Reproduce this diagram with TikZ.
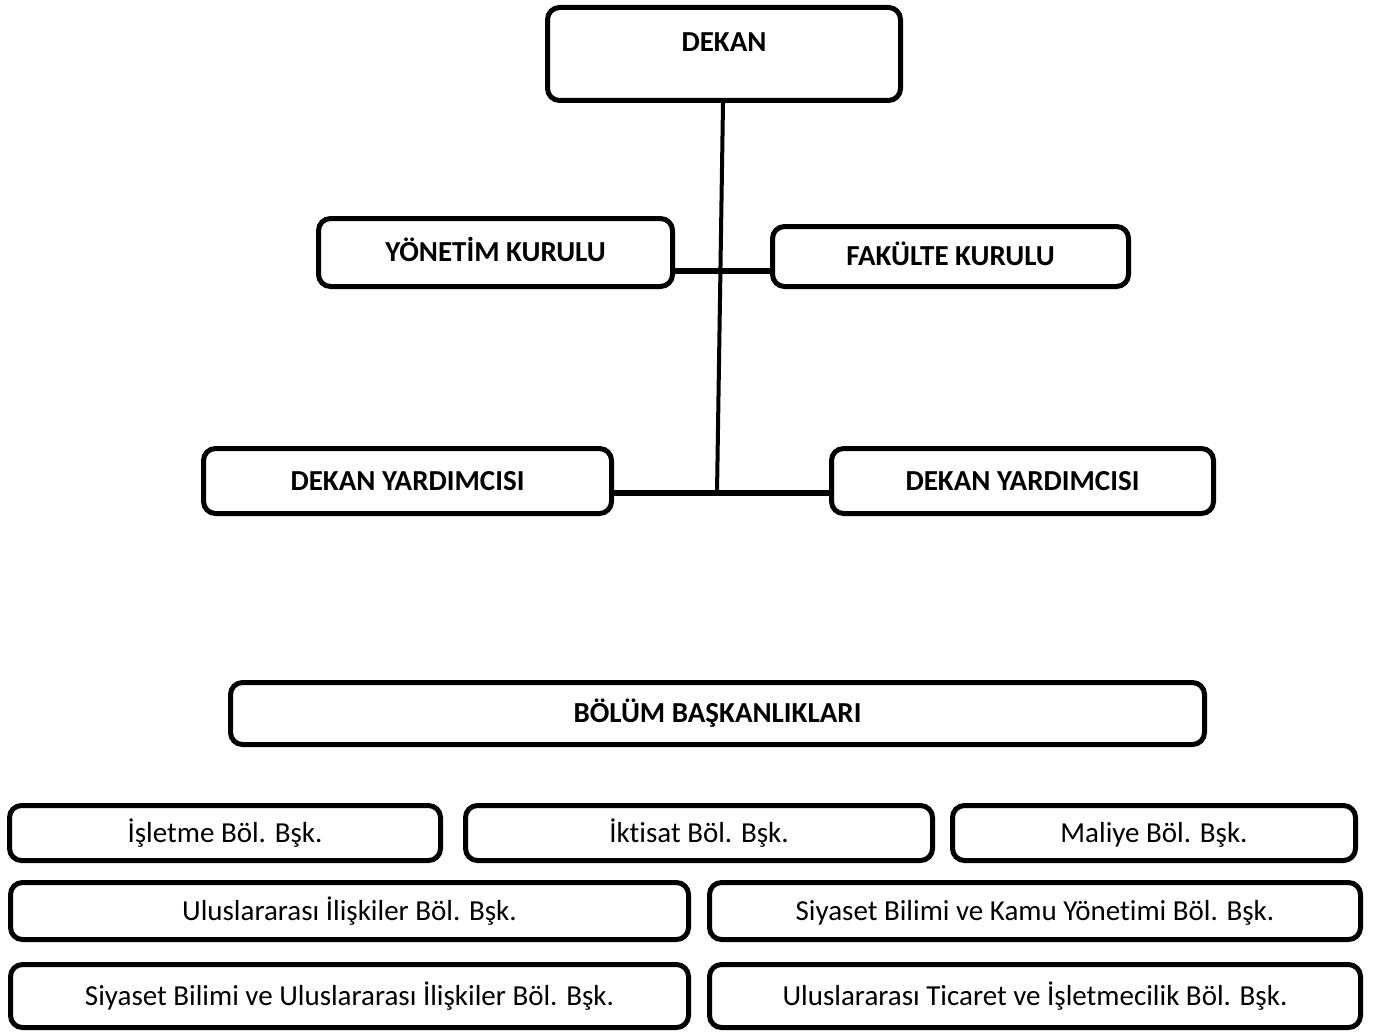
\documentclass[tikz,border=0pt]{standalone}
\usepackage{fontspec}
\setmainfont{Carlito}[Ligatures=CommonOff]
\begin{document}
\begin{tikzpicture}[x=1pt,y=-1pt,
  orgbox/.style={draw=black, line width=5pt, rounded corners=12pt, fill=white,
    inner sep=0pt, text height=18.7pt, text depth=0pt,
    font=\fontsize{29}{35}\selectfont},
  headbox/.style={orgbox, font=\fontsize{29}{35}\selectfont\bfseries},
  conn/.style={draw=black, line width=4pt},
  hconn/.style={draw=black, line width=6pt}]
\useasboundingbox[fill=white] (0,0) rectangle (1380,1035);
% junction points
\coordinate (jt) at (721,271);
\coordinate (jb) at (717,493);
% boxes
\node[headbox, minimum width=353pt, minimum height=93pt,
  label={[font=\fontsize{29}{35}\selectfont\bfseries, text height=18.7pt, text depth=0pt, inner sep=0pt, yshift=12pt]center:DEKAN}] (dekan) at (724,54) {};
\node[headbox, minimum width=354pt, minimum height=68pt] (yonetim) at (495.5,252.5) {YÖNETİM KURULU};
\node[headbox, minimum width=356pt, minimum height=60pt] (fakulte) at (950.5,256.5) {FAKÜLTE KURULU};
\node[headbox, minimum width=408pt, minimum height=65pt] (yard1) at (407.5,481) {DEKAN YARDIMCISI};
\node[headbox, minimum width=382pt, minimum height=65pt] (yard2) at (1022.5,481) {DEKAN YARDIMCISI};
\node[headbox, minimum width=974pt, minimum height=62pt] (bolum) at (717.5,713.5) {BÖLÜM BAŞKANLIKLARI};
\node[orgbox, minimum width=431pt, minimum height=55pt] (isl) at (225,833) {İşletme Böl. Bşk.};
\node[orgbox, minimum width=467pt, minimum height=55pt] (ikt) at (699,833) {İktisat Böl. Bşk.};
\node[orgbox, minimum width=403pt, minimum height=55pt] (mal) at (1154,833) {Maliye Böl. Bşk.};
\node[orgbox, minimum width=678pt, minimum height=57pt] (uli) at (349.5,911) {Uluslararası İlişkiler Böl. Bşk.};
\node[orgbox, minimum width=651pt, minimum height=57pt] (sbk) at (1035,911) {Siyaset Bilimi ve Kamu Yönetimi Böl. Bşk.};
\node[orgbox, minimum width=678pt, minimum height=63pt] (sbu) at (349.5,996) {Siyaset Bilimi ve Uluslararası İlişkiler Böl. Bşk.};
\node[orgbox, minimum width=651pt, minimum height=63pt] (uti) at (1035,996) {Uluslararası Ticaret ve İşletmecilik Böl. Bşk.};
% connectors
\draw[conn] ([xshift=-1pt]dekan.south) -- (jb);
\draw[hconn] (yonetim.east |- jt) -- (fakulte.west |- jt);
\draw[hconn] (yard1.east |- jb) -- (yard2.west |- jb);
\end{tikzpicture}
\end{document}
